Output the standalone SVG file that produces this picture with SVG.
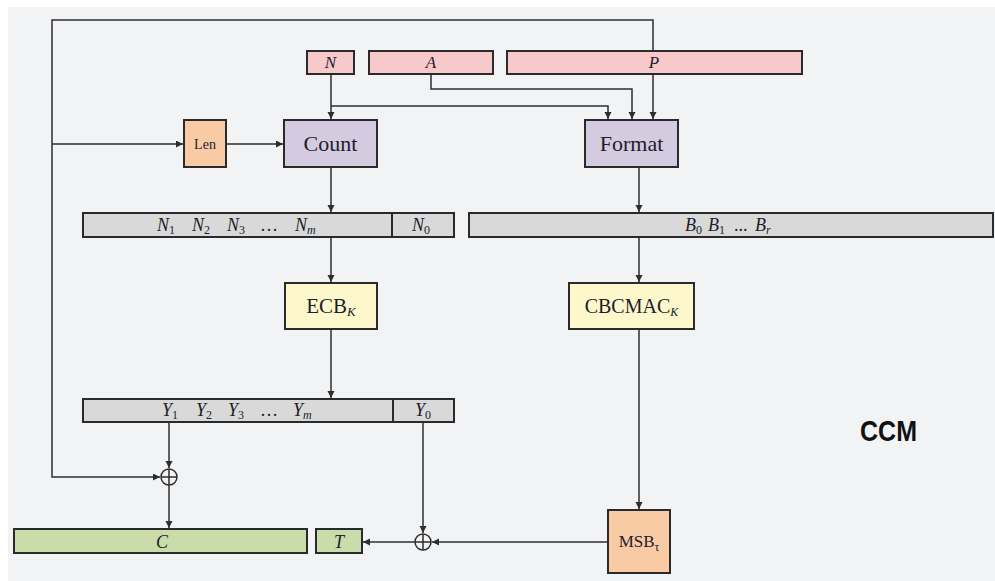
<svg xmlns="http://www.w3.org/2000/svg" width="995" height="581" viewBox="0 0 995 581">
  <style>
    .box { stroke: #2a2a2a; stroke-width: 2; }
    .pink { fill: #f8c9cb; }
    .lav { fill: #d4cbe0; }
    .orange { fill: #f8cba5; }
    .gray { fill: #d9d9d9; }
    .yellow { fill: #fcf8cb; }
    .green { fill: #cbdcab; }
    .wire { fill: none; stroke: #2e2e2e; stroke-width: 1.5; }
    .lbl { font-family: "Liberation Serif", "Times New Roman", serif; fill: #1d1d2b; text-anchor: middle; }
    .seq { font-family: "Liberation Serif", "Times New Roman", serif; fill: #1d1d2b; font-style: italic; font-size: 18px; }
    .up { font-style: normal; }
    .sub { font-size: 12px; font-style: normal; }
    .subi { font-size: 12px; font-style: italic; }
    .it { font-style: italic; }
    .xor { fill: none; stroke: #2e2e2e; stroke-width: 1.5; }
  </style>
  <defs>
    <marker id="arr" markerUnits="userSpaceOnUse" markerWidth="8" markerHeight="8" refX="7" refY="3.5" orient="auto">
      <path d="M0,0 L7,3.5 L0,7 z" fill="#2e2e2e"/>
    </marker>
  </defs>

  <!-- page background -->
  <rect x="8" y="7" width="987" height="574" fill="#f2f3f5"/>

  <!-- connectors -->
  <g id="connectors">
    <path class="wire" d="M653,51 V20 H52 V477 H160" marker-end="url(#arr)"/>
    <path class="wire" d="M52,144 H183" marker-end="url(#arr)"/>
    <path class="wire" d="M226,144 H283" marker-end="url(#arr)"/>
    <path class="wire" d="M653,74 V119" marker-end="url(#arr)"/>
    <path class="wire" d="M331,74 V119" marker-end="url(#arr)"/>
    <path class="wire" d="M331,106 H608 V119" marker-end="url(#arr)"/>
    <path class="wire" d="M431,74 V89 H632 V119" marker-end="url(#arr)"/>
    <path class="wire" d="M331,167 V212" marker-end="url(#arr)"/>
    <path class="wire" d="M639,167 V212" marker-end="url(#arr)"/>
    <path class="wire" d="M331,237 V282" marker-end="url(#arr)"/>
    <path class="wire" d="M639,237 V282" marker-end="url(#arr)"/>
    <path class="wire" d="M331,329 V398" marker-end="url(#arr)"/>
    <path class="wire" d="M639,329 V509" marker-end="url(#arr)"/>
    <path class="wire" d="M169,422 V468" marker-end="url(#arr)"/>
    <path class="wire" d="M169,485 V528" marker-end="url(#arr)"/>
    <path class="wire" d="M423,422 V533" marker-end="url(#arr)"/>
    <path class="wire" d="M608,542 H432" marker-end="url(#arr)"/>
    <path class="wire" d="M415,542 H363" marker-end="url(#arr)"/>
  </g>

  <!-- inputs -->
  <g id="N">
    <rect class="box pink" x="307" y="51" width="47" height="23"/>
    <text class="lbl it" x="330.5" y="68" font-size="17">N</text>
  </g>
  <g id="A">
    <rect class="box pink" x="369" y="51" width="124" height="23"/>
    <text class="lbl it" x="431" y="68" font-size="17">A</text>
  </g>
  <g id="P">
    <rect class="box pink" x="507" y="51" width="295" height="23"/>
    <text class="lbl it" x="654" y="68" font-size="17">P</text>
  </g>

  <g id="Len">
    <rect class="box orange" x="184" y="120" width="42" height="47"/>
    <text class="lbl" x="205" y="149" font-size="14">Len</text>
  </g>
  <g id="Count">
    <rect class="box lav" x="284" y="120" width="93" height="47"/>
    <text class="lbl" x="330.5" y="151" font-size="22">Count</text>
  </g>
  <g id="Format">
    <rect class="box lav" x="585" y="120" width="93" height="47"/>
    <text class="lbl" x="631.5" y="151" font-size="22">Format</text>
  </g>

  <!-- counter blocks -->
  <g id="Nbar">
    <rect class="box gray" x="83" y="213" width="371" height="24"/>
    <line x1="392" y1="213" x2="392" y2="237" stroke="#2a2a2a" stroke-width="2"/>
    <text class="seq" x="157" y="231">N<tspan class="sub" dy="3">1</tspan></text>
    <text class="seq" x="192" y="231">N<tspan class="sub" dy="3">2</tspan></text>
    <text class="seq" x="227" y="231">N<tspan class="sub" dy="3">3</tspan></text>
    <text class="seq up" x="260" y="231">…</text>
    <text class="seq" x="295" y="231">N<tspan class="subi" dy="3">m</tspan></text>
    <text class="seq" x="412" y="231">N<tspan class="sub" dy="3">0</tspan></text>
  </g>
  <g id="Bbar">
    <rect class="box gray" x="469" y="213" width="524" height="24"/>
    <text class="seq" x="685" y="231">B<tspan class="sub" dy="3">0</tspan></text>
    <text class="seq" x="708" y="231">B<tspan class="sub" dy="3">1</tspan></text>
    <text class="seq up" x="734" y="231">...</text>
    <text class="seq" x="755" y="231">B<tspan class="subi" dy="3">r</tspan></text>
  </g>

  <g id="ECB">
    <rect class="box yellow" x="285" y="283" width="92" height="46"/>
    <text class="lbl" x="331" y="313" font-size="21">ECB<tspan class="it" font-size="13" dy="3">K</tspan></text>
  </g>
  <g id="CBCMAC">
    <rect class="box yellow" x="569" y="283" width="125" height="46"/>
    <text class="lbl" x="631.5" y="313" font-size="20">CBCMAC<tspan class="it" font-size="12" dy="3">K</tspan></text>
  </g>

  <g id="Ybar">
    <rect class="box gray" x="83" y="399" width="371" height="23"/>
    <line x1="393" y1="399" x2="393" y2="422" stroke="#2a2a2a" stroke-width="2"/>
    <text class="seq" x="162" y="416">Y<tspan class="sub" dy="3">1</tspan></text>
    <text class="seq" x="196" y="416">Y<tspan class="sub" dy="3">2</tspan></text>
    <text class="seq" x="228" y="416">Y<tspan class="sub" dy="3">3</tspan></text>
    <text class="seq up" x="260" y="416">…</text>
    <text class="seq" x="293" y="416">Y<tspan class="subi" dy="3">m</tspan></text>
    <text class="seq" x="415" y="416">Y<tspan class="sub" dy="3">0</tspan></text>
  </g>

  <g id="xor1">
    <circle class="xor" cx="169" cy="477" r="8"/>
    <path class="xor" d="M161,477 H177 M169,469 V485"/>
  </g>
  <g id="xor2">
    <circle class="xor" cx="423" cy="542" r="8"/>
    <path class="xor" d="M415,542 H431 M423,534 V550"/>
  </g>

  <g id="MSB">
    <rect class="box orange" x="608" y="510" width="62" height="63"/>
    <text class="lbl" x="639" y="547" font-size="17">MSB<tspan font-size="12" dy="4">τ</tspan></text>
  </g>

  <!-- outputs -->
  <g id="C">
    <rect class="box green" x="14" y="529" width="293" height="24"/>
    <text class="lbl it" x="162" y="548" font-size="18">C</text>
  </g>
  <g id="T">
    <rect class="box green" x="316" y="529" width="46" height="24"/>
    <text class="lbl it" x="339" y="548" font-size="18">T</text>
  </g>

  <text x="860" y="441" font-family="Liberation Sans, Arial, sans-serif" font-weight="bold" font-size="30" textLength="57" lengthAdjust="spacingAndGlyphs" fill="#111">CCM</text>
</svg>
